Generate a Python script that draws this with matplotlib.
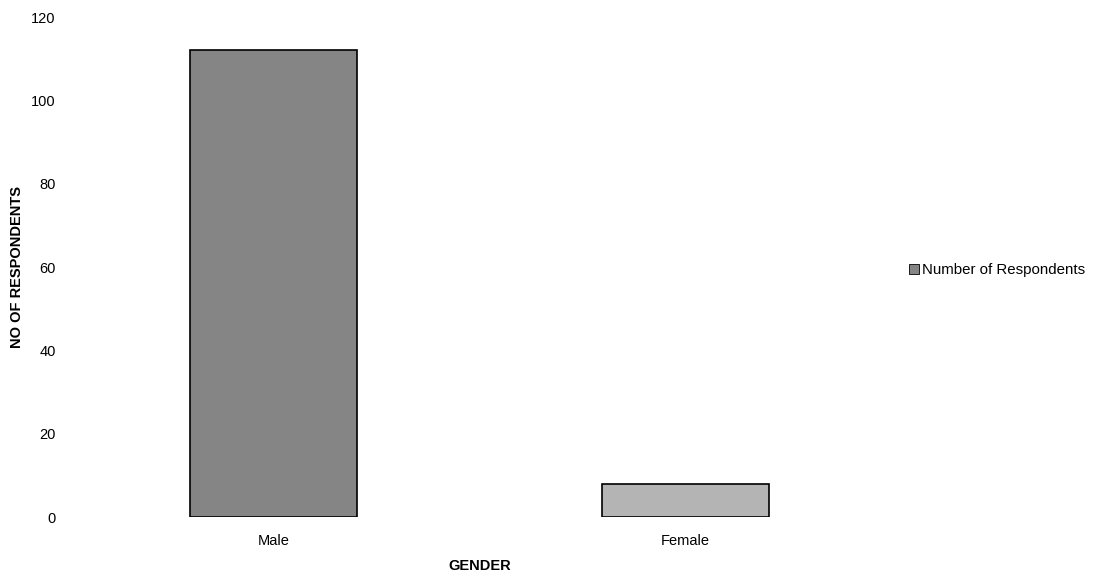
import numpy as np
import matplotlib
matplotlib.use("Agg")
import matplotlib.pyplot as plt
from matplotlib.patches import Patch

plt.rcParams['font.family'] = ['Liberation Sans', 'DejaVu Sans']

categories = ['Male', 'Female']
respondents = [112, 8]
y_ticks = [0, 20, 40, 60, 80, 100, 120]

fig = plt.figure(figsize=(10.97, 5.73), dpi=100)
ax = fig.add_axes([0.062, 0.0977, 0.750, 0.8726])

x = np.arange(len(categories))
ax.bar(x, respondents, width=0.406, color=['#858585', '#b4b4b4'],
       edgecolor='black', linewidth=1.2)

ax.set_xlim(-0.5, len(categories) - 0.5)
ax.set_ylim(0, 120)
ax.set_yticks(y_ticks)
ax.set_xticks(x)
ax.set_xticklabels(categories)
ax.tick_params(axis='both', length=0, labelsize=10.5)
ax.tick_params(axis='y', pad=9)
ax.tick_params(axis='x', pad=12)
for s in ax.spines.values():
    s.set_visible(False)

ax.set_xlabel('GENDER', fontsize=10.5, fontweight='bold')
ax.xaxis.set_label_coords(0.5, -0.084)
ax.set_ylabel('NO OF RESPONDENTS', fontsize=10.5, fontweight='bold')
ax.yaxis.set_label_coords(-0.053, 0.5)

handle = Patch(facecolor='#858585', edgecolor='black', linewidth=0.6)
fig.legend([handle], ['Number of Respondents'], loc='center left',
           bbox_to_anchor=(0.816, 0.528), frameon=False, fontsize=10.8,
           handlelength=0.7, handleheight=0.7, handletextpad=0.2)

fig.savefig('out.png', dpi=100)
